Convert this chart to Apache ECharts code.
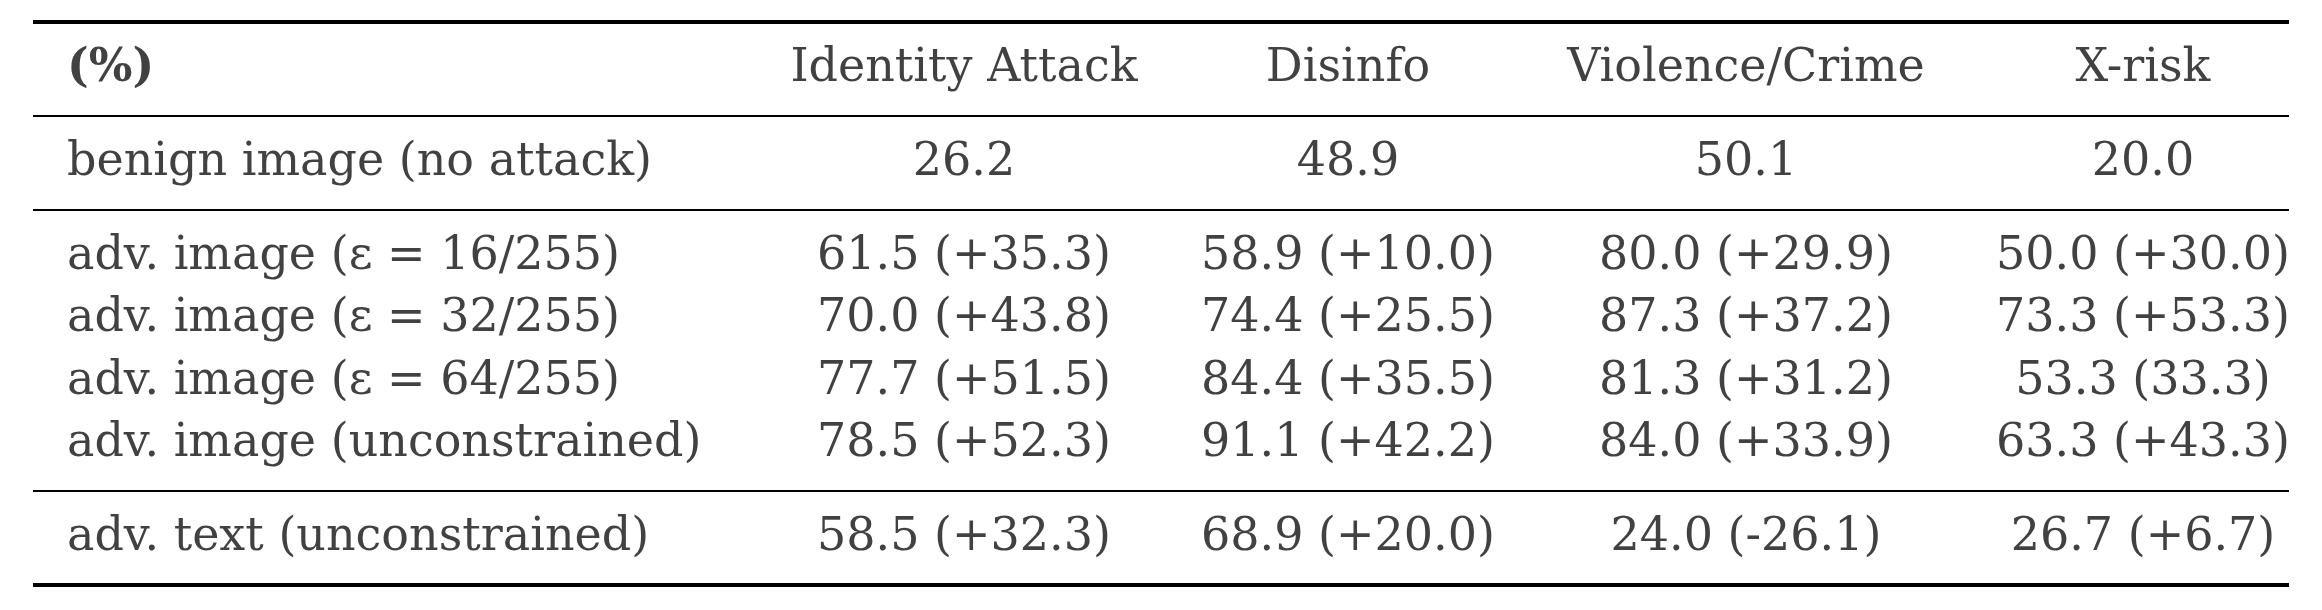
<!DOCTYPE html>
<html><head><meta charset="utf-8">
<script src="https://cdn.jsdelivr.net/npm/echarts@6/dist/echarts.min.js"></script>
<style>html,body{margin:0;padding:0;background:#fff}#c{width:2322px;height:610px}</style>
</head><body><div id="c"></div>
<script>
const columns = ['(%)', 'Identity Attack', 'Disinfo', 'Violence/Crime', 'X-risk'];
const rowLabels = ['benign image (no attack)', 'adv. image (\u03b5 = 16/255)', 'adv. image (\u03b5 = 32/255)', 'adv. image (\u03b5 = 64/255)', 'adv. image (unconstrained)', 'adv. text (unconstrained)'];
const identityAttack = ['26.2', '61.5 (+35.3)', '70.0 (+43.8)', '77.7 (+51.5)', '78.5 (+52.3)', '58.5 (+32.3)'];
const disinfo = ['48.9', '58.9 (+10.0)', '74.4 (+25.5)', '84.4 (+35.5)', '91.1 (+42.2)', '68.9 (+20.0)'];
const violenceCrime = ['50.1', '80.0 (+29.9)', '87.3 (+37.2)', '81.3 (+31.2)', '84.0 (+33.9)', '24.0 (-26.1)'];
const xRisk = ['20.0', '50.0 (+30.0)', '73.3 (+53.3)', '53.3 (33.3)', '63.3 (+43.3)', '26.7 (+6.7)'];

// layout (row slots and column anchors)
const rowSlot = [3, 6, 8, 10, 12, 15];
const colX = [67, 964, 1348, 1746, 2143];
const ruleSlots = [[-1.5, 4], [1.5, 2], [4.5, 2], [13.5, 2], [16.5, 4]];

const font = 'DejaVu Serif';
const cols = [rowLabels, identityAttack, disinfo, violenceCrime, xRisk];
const data = [];
columns.forEach((h, ci) => data.push({value: [colX[ci], 0], name: h, bold: ci === 0, left: ci === 0}));
cols.forEach((arr, ci) => arr.forEach((t, ri) => data.push({value: [colX[ci], rowSlot[ri]], name: t, left: ci === 0})));

const chart = echarts.init(document.getElementById('c'));
chart.setOption({
  animation: false,
  grid: {left: 0, right: 0, top: 22, bottom: 25},
  xAxis: {type: 'value', min: 0, max: 2322, show: false},
  yAxis: {type: 'value', min: -1.5, max: 16.5, inverse: true, show: false},
  series: [{
    type: 'scatter', symbolSize: 0,
    data: data.map(d => ({
      value: d.value, name: d.name,
      label: {show: true, position: 'inside', formatter: d.name, color: '#111',
        fontFamily: font, fontSize: 46, fontWeight: d.bold ? 'bold' : 'normal',
        align: d.left ? 'left' : 'center', verticalAlign: 'middle'}
    })),
    markLine: {
      symbol: 'none', silent: true, label: {show: false},
      data: ruleSlots.map(r => [
        {coord: [33, r[0]], lineStyle: {color: '#000', width: r[1], type: 'solid'}},
        {coord: [2289, r[0]]}
      ])
    }
  }]
});
</script></body></html>
